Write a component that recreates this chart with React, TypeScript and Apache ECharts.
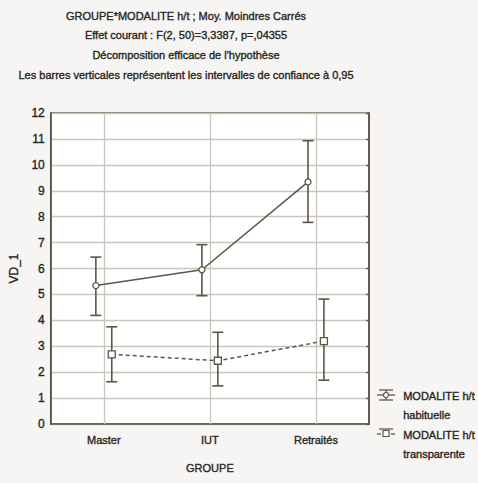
import React, { useEffect, useRef } from "react";
import * as echarts from "echarts";

const categories = ["Master", "IUT", "Retraités"];
const habituelleMean = [5.34, 5.95, 9.34];
const habituelleLow = [4.19, 4.95, 7.78];
const habituelleHigh = [6.44, 6.92, 10.93];
const transparenteMean = [2.69, 2.44, 3.2];
const transparenteLow = [1.63, 1.47, 1.69];
const transparenteHigh = [3.75, 3.54, 4.82];
const titleLines = [
  "GROUPE*MODALITE h/t ; Moy. Moindres Carrés",
  "Effet courant : F(2, 50)=3,3387, p=,04355",
  "Décomposition efficace de l'hypothèse",
  "Les barres verticales représentent les intervalles de confiance à 0,95",
];
const legendNames = ["MODALITE h/t\nhabituelle", "MODALITE h/t\ntransparente"];
const yMin = 0;
const yMax = 12;
const yInterval = 1;

const OFFSET = 0.075;
const DARK = "#5b5646";
const GRID = "#c9c5bc";
const TEXT = "#26251f";
const FONT = "'Liberation Sans', Arial, sans-serif";
const heavy = { textBorderColor: TEXT, textBorderWidth: 0.35 };

function errorBarSeries(xs: number[], lows: number[], highs: number[]) {
  return {
    type: "custom",
    xAxisIndex: 1,
    yAxisIndex: 0,
    z: 3,
    silent: true,
    data: xs.map((x, i) => [x, lows[i], highs[i]]),
    renderItem: (params: any, api: any) => {
      const x = api.value(0);
      const lo = api.coord([x, api.value(1)]);
      const hi = api.coord([x, api.value(2)]);
      const hw = 5.5;
      const style = { stroke: DARK, lineWidth: 1.6 };
      return {
        type: "group",
        children: [
          { type: "line", shape: { x1: lo[0], y1: lo[1], x2: hi[0], y2: hi[1] }, style },
          { type: "line", shape: { x1: lo[0] - hw, y1: lo[1], x2: lo[0] + hw, y2: lo[1] }, style },
          { type: "line", shape: { x1: hi[0] - hw, y1: hi[1], x2: hi[0] + hw, y2: hi[1] }, style },
        ],
      };
    },
  };
}

export default function App() {
  const ref = useRef<HTMLDivElement>(null);
  useEffect(() => {
    if (!ref.current) return;
    const chart = echarts.init(ref.current, null, { renderer: "svg" });
    const xsH = categories.map((_, i) => i - OFFSET);
    const xsT = categories.map((_, i) => i + OFFSET);
    const legendStyle = { stroke: DARK, lineWidth: 1.3 };
    const option: any = {
      animation: false,
      backgroundColor: "#f6f5f3",
      title: titleLines.map((t, i) => ({
        text: t,
        left: 181,
        top: 5 + i * 19.7,
        textAlign: "center",
        textStyle: { fontFamily: FONT, fontSize: 11, fontWeight: "normal", color: TEXT, ...heavy },
      })),
      grid: {
        left: 46,
        right: 109,
        top: 113,
        bottom: 59,
        show: true,
        backgroundColor: "#ffffff",
        borderColor: DARK,
        borderWidth: 1.6,
      },
      xAxis: [
        {
          type: "category",
          data: categories,
          boundaryGap: true,
          name: "GROUPE",
          nameLocation: "middle",
          nameGap: 38,
          nameTextStyle: { fontFamily: FONT, fontSize: 11, color: TEXT, ...heavy },
          axisLine: { onZero: false, lineStyle: { color: DARK, width: 1.6 } },
          axisTick: { show: false },
          axisLabel: { fontFamily: FONT, fontSize: 11, color: TEXT, margin: 10, ...heavy },
          splitLine: { show: false },
        },
        {
          type: "value",
          min: -0.5,
          max: 2.5,
          show: false,
          axisLine: { onZero: false },
          splitLine: { show: false },
        },
      ],
      yAxis: [
        {
          type: "value",
          min: yMin,
          max: yMax,
          interval: yInterval,
          name: "VD_1",
          nameLocation: "middle",
          nameGap: 27,
          nameTextStyle: { fontFamily: FONT, fontSize: 12, color: TEXT, ...heavy },
          axisLine: { show: true, onZero: false, lineStyle: { color: DARK, width: 1.6 } },
          axisTick: { show: false },
          axisLabel: { fontFamily: FONT, fontSize: 12, color: TEXT, margin: 6, ...heavy },
          splitLine: { show: true, lineStyle: { color: GRID, width: 1.3 } },
        },
        {
          type: "value",
          position: "right",
          min: yMin,
          max: yMax,
          interval: yInterval,
          axisLine: { show: true, onZero: false, lineStyle: { color: DARK, width: 1.6 } },
          axisTick: { show: true, inside: true, length: 3, lineStyle: { color: DARK, width: 1.3 } },
          axisLabel: { show: false },
          splitLine: { show: false },
        },
      ],
      series: [
        errorBarSeries(xsH, habituelleLow, habituelleHigh),
        errorBarSeries(xsT, transparenteLow, transparenteHigh),
        {
          type: "line",
          name: "habituelle",
          xAxisIndex: 1,
          yAxisIndex: 0,
          z: 5,
          data: xsH.map((x, i) => [x, habituelleMean[i]]),
          lineStyle: { color: DARK, width: 1.5 },
          itemStyle: { color: "#ffffff", borderColor: DARK, borderWidth: 1.3 },
          symbol: "circle",
          symbolSize: 6,
          markLine: {
            silent: true,
            symbol: "none",
            label: { show: false },
            lineStyle: { color: GRID, width: 1.3, type: "solid" },
            data: categories.map((_, i) => ({ xAxis: i })),
            z: 1,
          },
        },
        {
          type: "line",
          name: "transparente",
          xAxisIndex: 1,
          yAxisIndex: 0,
          z: 5,
          data: xsT.map((x, i) => [x, transparenteMean[i]]),
          lineStyle: { color: DARK, width: 1.5, type: [4, 3] },
          itemStyle: { color: "#ffffff", borderColor: DARK, borderWidth: 1.3 },
          symbol: "rect",
          symbolSize: 7,
        },
      ],
      graphic: [
        // legend 1
        { type: "line", shape: { x1: 379, y1: 390, x2: 393, y2: 390 }, style: legendStyle },
        { type: "line", shape: { x1: 379, y1: 400, x2: 393, y2: 400 }, style: legendStyle },
        { type: "line", shape: { x1: 386, y1: 390, x2: 386, y2: 400 }, style: legendStyle },
        { type: "line", shape: { x1: 377, y1: 395, x2: 395, y2: 395 }, style: legendStyle },
        { type: "circle", shape: { cx: 386, cy: 395, r: 2.5 }, style: { fill: "#fff", stroke: DARK, lineWidth: 1.2 } },
        {
          type: "text",
          left: 403,
          top: 386,
          style: { text: legendNames[0], fontFamily: FONT, fontSize: 11, fill: TEXT, lineHeight: 19.5, stroke: TEXT, lineWidth: 0.35 },
        },
        // legend 2
        { type: "line", shape: { x1: 379, y1: 429, x2: 393, y2: 429 }, style: legendStyle },
        { type: "line", shape: { x1: 377, y1: 434, x2: 381, y2: 434 }, style: legendStyle },
        { type: "line", shape: { x1: 391, y1: 434, x2: 395, y2: 434 }, style: legendStyle },
        { type: "rect", shape: { x: 383, y: 430.5, width: 6, height: 6 }, style: { fill: "#fff", stroke: DARK, lineWidth: 1.2 } },
        {
          type: "text",
          left: 403,
          top: 425,
          style: { text: legendNames[1], fontFamily: FONT, fontSize: 11, fill: TEXT, lineHeight: 19.5, stroke: TEXT, lineWidth: 0.35 },
        },
      ],
    };
    chart.setOption(option);
    return () => chart.dispose();
  }, []);
  return (
    <div
      ref={ref}
      style={{ position: "fixed", left: 0, top: 0, width: 478, height: 483, background: "#f6f5f3" }}
    />
  );
}
